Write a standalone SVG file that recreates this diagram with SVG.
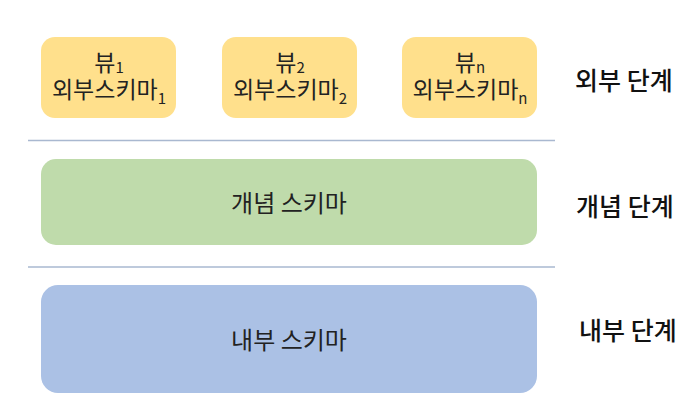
<svg xmlns="http://www.w3.org/2000/svg" width="696" height="419" viewBox="0 0 696 419">
<style>
.t{font-family:"Noto Sans CJK KR","Noto Sans",sans-serif;fill:#222;text-anchor:middle}
.s23{font-size:23px}
.s24{font-size:24px}
.lbl{font-family:"Noto Sans CJK KR","Noto Sans",sans-serif;font-size:25px;font-weight:500;fill:#111;text-anchor:start}
.sub{font-size:15px}
.ext{fill:#FFE08C}
.con{fill:#BFDBAB}
.int{fill:#ABC1E5}
.sep{stroke:#A9B8D0;stroke-width:1.5}
</style>
<rect width="696" height="419" fill="#fff"/>
<g id="separators">
<line class="sep" x1="28" y1="140.5" x2="555" y2="140.5"/>
<line class="sep" x1="28" y1="267" x2="555" y2="267"/>
</g>
<g id="view1">
<rect class="ext" x="41" y="37" width="135" height="81" rx="14"/>
<text class="t s23"><tspan x="109" y="71">뷰<tspan class="sub" dy="2">1</tspan></tspan><tspan x="109" y="98">외부스키마<tspan class="sub" dy="6">1</tspan></tspan></text>
</g>
<g id="view2">
<rect class="ext" x="222" y="37" width="135" height="81" rx="14"/>
<text class="t s23"><tspan x="290" y="71">뷰<tspan class="sub" dy="2">2</tspan></tspan><tspan x="290" y="98">외부스키마<tspan class="sub" dy="6">2</tspan></tspan></text>
</g>
<g id="viewN">
<rect class="ext" x="402" y="37" width="135" height="81" rx="14"/>
<text class="t s23"><tspan x="470" y="71">뷰<tspan class="sub" dy="2">n</tspan></tspan><tspan x="470" y="98">외부스키마<tspan class="sub" dy="6">n</tspan></tspan></text>
</g>
<g id="conceptual">
<rect class="con" x="41" y="159" width="496" height="86" rx="15"/>
<text class="t s24" x="289" y="212">개념 스키마</text>
</g>
<g id="internal">
<rect class="int" x="41" y="285" width="496" height="108" rx="17"/>
<text class="t s24" x="289" y="349">내부 스키마</text>
</g>
<g id="labels">
<text class="lbl" x="575" y="90">외부 단계</text>
<text class="lbl" x="576" y="216">개념 단계</text>
<text class="lbl" x="579" y="340">내부 단계</text>
</g>
</svg>
